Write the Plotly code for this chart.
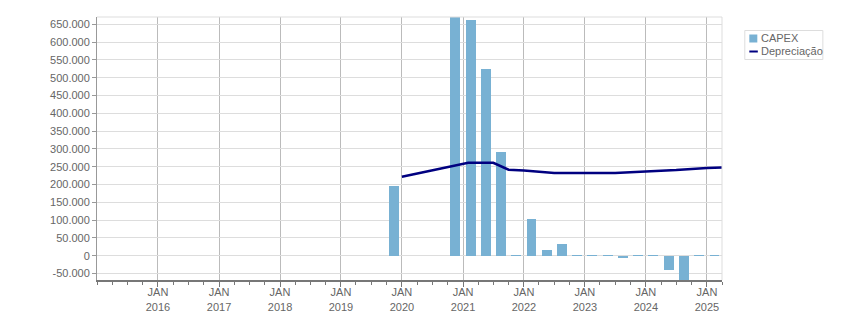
import plotly.graph_objects as go

# ---- data ----
capex_quarters = ["2019-10-01", "2020-10-01", "2021-01-01", "2021-04-01", "2021-07-01",
                  "2021-10-01", "2022-01-01", "2022-04-01", "2022-07-01", "2022-10-01",
                  "2023-01-01", "2023-04-01", "2023-07-01", "2023-10-01", "2024-01-01",
                  "2024-04-01", "2024-07-01", "2024-10-01", "2025-01-01"]
capex_values = [195000, 690000, 662000, 524000, 291000,
                1500, 103000, 16000, 33000, 1500,
                1500, 1500, -6000, 1500, 1500,
                -41000, -80000, 1500, 1500]

dep_dates = ["2020-01-01", "2020-04-01", "2020-07-01", "2020-10-01", "2021-01-01",
             "2021-02-01", "2021-07-01", "2021-10-01", "2022-01-01", "2022-04-01",
             "2022-07-01", "2023-07-01", "2024-01-01", "2024-07-01", "2025-01-01", "2025-04-01"]
dep_values = [222000, 231000, 240000, 249000, 258500,
              261000, 261000, 241500, 239000, 236000,
              232500, 232500, 236000, 240500, 246500, 248000]

year_ticks = ["2016-01-01", "2017-01-01", "2018-01-01", "2019-01-01", "2020-01-01",
              "2021-01-01", "2022-01-01", "2023-01-01", "2024-01-01", "2025-01-01"]
year_labels = ["JAN<br>2016", "JAN<br>2017", "JAN<br>2018", "JAN<br>2019", "JAN<br>2020",
               "JAN<br>2021", "JAN<br>2022", "JAN<br>2023", "JAN<br>2024", "JAN<br>2025"]
y_ticks = [-50000, 0, 50000, 100000, 150000, 200000, 250000, 300000, 350000,
           400000, 450000, 500000, 550000, 600000, 650000]
y_labels = ["-50.000", "0", "50.000", "100.000", "150.000", "200.000", "250.000", "300.000",
            "350.000", "400.000", "450.000", "500.000", "550.000", "600.000", "650.000"]

BAR_COLOR = "#78b1d3"
LINE_COLOR = "#000080"
TEXT = "#666666"
FONT = "Liberation Sans, Arial, sans-serif"

fig = go.Figure()
fig.add_trace(go.Bar(
    x=capex_quarters, y=capex_values, name="CAPEX",
    xperiod="M3", xperiod0="2015-01-01", xperiodalignment="middle",
    marker=dict(color=BAR_COLOR, line=dict(width=0)),
    width=59.5 * 86400000, showlegend=False,
))
fig.add_trace(go.Scatter(
    x=dep_dates, y=dep_values, name="Depreciação", mode="lines",
    line=dict(color=LINE_COLOR, width=2.5), showlegend=False,
))

fig.update_layout(
    width=851, height=313,
    margin=dict(l=97, r=129, t=17, b=33, autoexpand=False),
    paper_bgcolor="white", plot_bgcolor="white",
    font=dict(family=FONT, size=11, color=TEXT),
    bargap=0,
)
fig.update_xaxes(
    type="date", range=["2015-01-01", "2025-04-01"],
    tickmode="array", tickvals=year_ticks, ticktext=year_labels,
    ticks="outside", ticklen=5, tickcolor="#777777", tickwidth=1,
    ticklabelstandoff=-4,
    showgrid=True, gridcolor="#bbbbbb", gridwidth=1,
    showline=True, linecolor="#777777", linewidth=2,
    minor=dict(dtick="M3", tick0="2015-01-01", ticks="outside", ticklen=3,
               tickcolor="#777777", showgrid=False),
    zeroline=False, automargin=False,
    tickfont=dict(size=11, color=TEXT, family=FONT),
)
fig.update_yaxes(
    range=[-68300, 670500],
    tickmode="array", tickvals=y_ticks, ticktext=y_labels,
    ticks="outside", ticklen=4, tickcolor="#999999",
    showgrid=True, gridcolor="#dddddd", gridwidth=1,
    showline=True, linecolor="#999999", linewidth=1,
    zeroline=False, automargin=False,
    tickfont=dict(size=11, color=TEXT, family=FONT),
)

# plot frame top/right
fig.add_shape(type="line", xref="paper", yref="paper", x0=0, x1=1, y0=1, y1=1,
              line=dict(color="#dddddd", width=1))
fig.add_shape(type="line", xref="paper", yref="paper", x0=1, x1=1, y0=0, y1=1,
              line=dict(color="#dddddd", width=1))

# legend (manual)
pw, ph = 624.7, 263.0
def px_x(p):
    return (p - 97) / pw
def px_y(p):
    return (280 - p) / ph

fig.add_shape(type="rect", xref="paper", yref="paper",
              x0=px_x(744.5), x1=px_x(822.5), y0=px_y(59.5), y1=px_y(30.5),
              line=dict(color="#dddddd", width=1), fillcolor="white")
fig.add_shape(type="rect", xref="paper", yref="paper",
              x0=px_x(749), x1=px_x(757), y0=px_y(42.5), y1=px_y(34.5),
              line=dict(width=0), fillcolor=BAR_COLOR)
fig.add_shape(type="line", xref="paper", yref="paper",
              x0=px_x(749), x1=px_x(757.5), y0=px_y(51.5), y1=px_y(51.5),
              line=dict(color=LINE_COLOR, width=2))
fig.add_annotation(xref="paper", yref="paper", x=px_x(759), y=px_y(38.5),
                   text="CAPEX", showarrow=False, xanchor="left", yanchor="middle",
                   font=dict(size=11, color=TEXT, family=FONT))
fig.add_annotation(xref="paper", yref="paper", x=px_x(759), y=px_y(51.5),
                   text="Depreciação", showarrow=False, xanchor="left", yanchor="middle",
                   font=dict(size=11, color=TEXT, family=FONT))

fig.write_html("out.html")
